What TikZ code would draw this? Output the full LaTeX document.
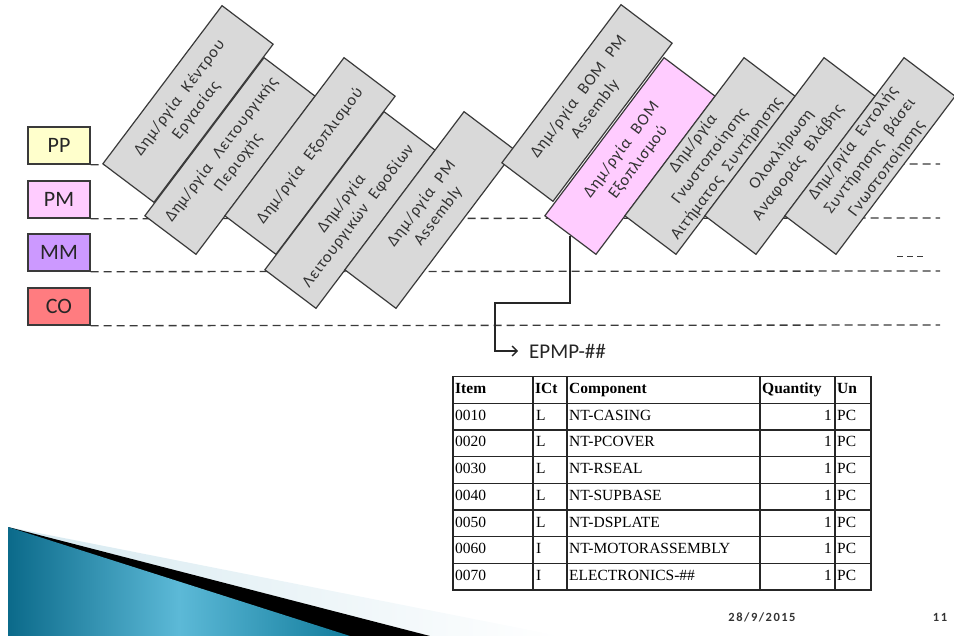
\documentclass[tikz,border=0pt]{standalone}
\usepackage{fontspec}
\setmainfont{Carlito}
\newfontfamily\tabfont{Liberation Serif}
\newfontfamily\stepfont[LetterSpace=5,WordSpace=2.2]{Carlito}
\newfontfamily\footfont[LetterSpace=12]{Carlito}
\usetikzlibrary{arrows.meta,calc}

\definecolor{boxgrey}{HTML}{D9D9D9}
\definecolor{pmpink}{HTML}{FFCCFF}
\definecolor{ppyellow}{HTML}{FFFFCC}
\definecolor{mmviolet}{HTML}{CC99FF}
\definecolor{cored}{HTML}{FF7C80}
\definecolor{edge}{HTML}{3A3A3A}
\definecolor{tealdark}{HTML}{0B6A8A}
\definecolor{teallight}{HTML}{5CB9D7}
\definecolor{tealmid}{HTML}{127C9C}
\definecolor{paleblue}{HTML}{D6E9F0}

\tikzset{
  lanebox/.style={draw=edge, line width=1.4pt, minimum width=62pt, minimum height=37pt,
    inner sep=0pt, font=\fontsize{22}{24}\selectfont, text=black!85},
  laneline/.style={draw=edge, line width=1.3pt, dash pattern=on 8pt off 5pt},
  stepbox/.style={draw=edge, line width=1.2pt, fill=boxgrey, minimum width=198pt,
    minimum height=64pt, rotate=53, align=center, inner sep=1pt, text=black!80,
    font=\stepfont\fontsize{16.5}{21}\selectfont},
  link/.style={draw=black!85, line width=1.3pt},
  cell/.style={anchor=west, inner sep=0pt, text height=10.5pt, text depth=3pt,
    font=\tabfont\fontsize{15.5}{17}\selectfont},
  headcell/.style={cell, font=\tabfont\bfseries\fontsize{15.5}{17}\selectfont},
  grid/.style={draw=black!85, line width=1.3pt},
  footer/.style={inner sep=0pt, text=black!80,
    font=\footfont\bfseries\fontsize{12.5}{13}\selectfont},
}

\begin{document}
\begin{tikzpicture}[x=1pt,y=-1pt]
\useasboundingbox (0,0) rectangle (954,636);

% decorative wedge in the lower left corner
\shade[left color=paleblue, right color=white, shading angle=90]
  (8,527) -- (560,636) -- (8,636) -- cycle;
\fill[black] (8,527) -- (430,636) -- (8,636) -- cycle;
\shade[left color=tealdark, right color=tealmid, middle color=teallight]
  (8,527) -- (350,636) -- (8,636) -- cycle;

% module lanes
\node[lanebox, fill=ppyellow] (pp) at (59,145.5) {PP};
\node[lanebox, fill=pmpink]   (pm) at (59,199.5) {PM};
\node[lanebox, fill=mmviolet] (mm) at (59,252.5) {MM};
\node[lanebox, fill=cored]    (co) at (59,306.5) {CO};

\coordinate (ppend) at (940,164);
\coordinate (pmend) at (940,218);
\coordinate (mmend) at (940,271);
\coordinate (coend) at (940,325);
\draw[laneline] (pp.south east) -- (ppend);
\draw[laneline] (pm.south east) -- (pmend);
\draw[laneline] (mm.south east) -- (mmend);
\draw[laneline] (co.south east) -- (coend);
\coordinate (etcL) at (897,257);
\coordinate (etcR) at (926,257);
\draw[laneline, line width=1pt, dash pattern=on 6pt off 4pt] (etcL) -- (etcR);

% process steps
\node[stepbox] (s1) at (188,104) {Δημ/ργία Κέντρου\\Εργασίας};
\node[stepbox] (s2) at (230,156) {Δημ/ργία Λειτουργικής\\Περιοχής};
\node[stepbox] (s3) at (310,156) {Δημ/ργία Εξοπλισμού};
\node[stepbox] (s4) at (350,210) {Δημ/ργία\\Λειτουργικών Εφοδίων};
\node[stepbox] (s5) at (430,210) {Δημ/ργία PM\\Assembly};
\node[stepbox] (s6) at (587,103) {Δημ/ργία BOM PM\\Assembly};
\node[stepbox, fill=pmpink] (s7) at (630,156) {Δημ/ργία BOM\\Εξοπλισμού};
\node[stepbox] (s8) at (710,156) {Δημ/ργία\\Γνωστοποίησης\\Αιτήματος Συντήρησης};
\node[stepbox] (s9) at (790,156) {Ολοκλήρωση\\Αναφοράς Βλάβης};
\node[stepbox] (s10) at (870,156) {Δημ/ργία Εντολής\\Συντήρησης βάσει\\Γνωστοποίησης};

% resulting bill of material
\node[anchor=west, inner xsep=12pt, inner ysep=0pt, text=black!85,
  font=\fontsize{21}{23}\selectfont] (epmp) at (517,351) {EPMP-\#\#};
\coordinate (elbow) at (495,303);
\draw[link, -{Straight Barb[length=5pt,width=10pt]}]
  (s7.west) |- (elbow) |- ([xshift=1pt]epmp.west);

% table grid
\draw[grid] (453,376.5) rectangle (871,590);
\foreach \k in {1,...,7}
  \draw[grid] (453,376.5+26.7*\k) -- (871,376.5+26.7*\k);
\foreach \cx in {533,567,760,835}
  \draw[grid] (\cx,376.5) -- (\cx,590);

% table header
\node[headcell] (hitem) at (455,389.8) {Item};
\node[headcell] (hict)  at (535,389.8) {ICt};
\node[headcell] (hcomp) at (569,389.8) {Component};
\node[headcell] (hqty)  at (762,389.8) {Quantity};
\node[headcell] (hun)   at (837,389.8) {Un};

% table rows
\foreach \it/\ic/\comp [count=\i] in {
    0010/L/NT-CASING, 0020/L/NT-PCOVER, 0030/L/NT-RSEAL,
    0040/L/NT-SUPBASE, 0050/L/NT-DSPLATE, 0060/I/NT-MOTORASSEMBLY,
    0070/I/ELECTRONICS-\#\#}{
  \pgfmathsetmacro{\ry}{389.8+26.7*\i}
  \node[cell] (item\i) at (455,\ry) {\it};
  \node[cell] (ict\i)  at (536,\ry) {\ic};
  \node[cell] (comp\i) at (569,\ry) {\comp};
  \node[cell, anchor=east] (qty\i) at (832,\ry) {1};
  \node[cell] (un\i)   at (837,\ry) {PC};
}

% footer
\node[footer] (date) at (762,617) {28/9/2015};
\node[footer] (page) at (940,617) {11};
\end{tikzpicture}
\end{document}
